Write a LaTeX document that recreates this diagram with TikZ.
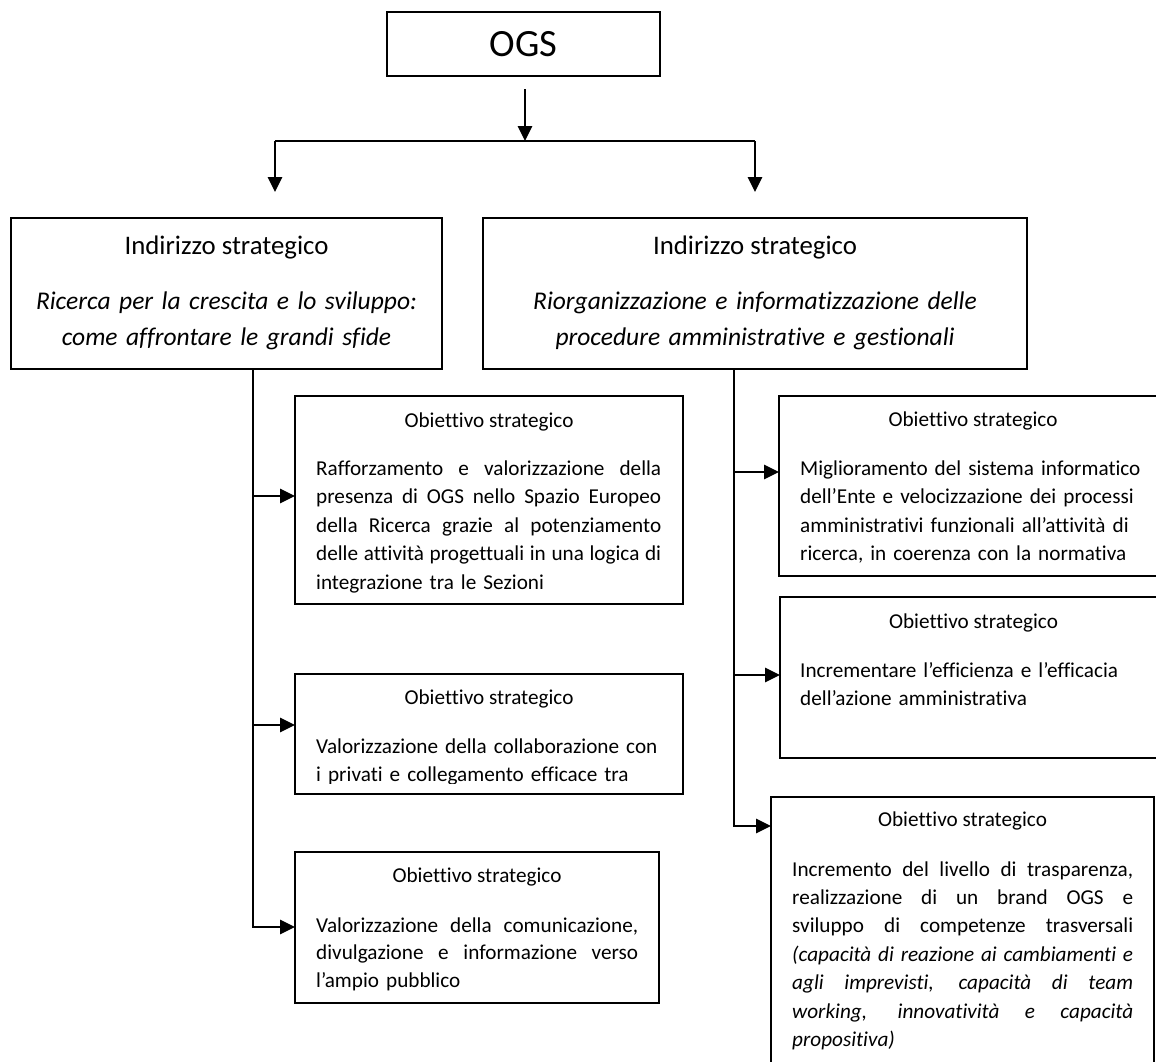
\documentclass[tikz,border=0pt]{standalone}
\usepackage{fontspec}
\setmainfont{Carlito}[Ligatures=CommonOff]
\usetikzlibrary{arrows.meta}
\newcommand\jline[3][]{\leavevmode\hbox to #2{#1\spaceskip=\fontdimen2\font plus 1fil\relax #3}}
\begin{document}
\begin{tikzpicture}[x=1pt,y=-1pt,
  box/.style={draw, line width=1.5pt, inner sep=0pt, outer sep=0pt, anchor=north west},
  arr/.style={line width=1.5pt, -{Triangle[length=15pt,width=14.5pt]}},
  ln/.style={line width=1.5pt},
  smallf/.style={font=\fontsize{21.2}{28.5}\selectfont},
  ttl/.style={anchor=base, inner sep=0pt, smallf},
  body/.style={anchor=base west, inner sep=0pt, align=left, text width=360pt, smallf},
  bigf/.style={font=\fontsize{26.8}{36}\selectfont},
  bigi/.style={font=\fontsize{25.5}{36}\selectfont\itshape},
  ]
\fill[white] (0,0) rectangle (1156,1061);
\useasboundingbox (0,0) rectangle (1156,1061);

% top
\node[box, minimum width=273pt, minimum height=64pt, font=\fontsize{38.6}{46}\selectfont] (ogs) at (387,12) {OGS};

% strategic directions
\node[box, minimum width=431pt, minimum height=151pt] (li) at (11,218) {};
\node[anchor=base, inner sep=0pt, bigf] (lit) at (226.5,254) {Indirizzo strategico};
\node[anchor=base, inner sep=0pt, text width=425pt, align=center, bigi] (lis) at (226.5,309) {Ricerca per la crescita e lo sviluppo:\\come affrontare le grandi sfide};

\node[box, minimum width=544pt, minimum height=151pt] (ri) at (483,218) {};
\node[anchor=base, inner sep=0pt, bigf] (rit) at (755,254) {Indirizzo strategico};
\node[anchor=base, inner sep=0pt, text width=540pt, align=center, bigi] (ris) at (755,309) {Riorganizzazione e informatizzazione delle\\procedure amministrative e gestionali};

% left objectives
\node[box, minimum width=388pt, minimum height=208pt] (lo1) at (295,396) {};
\node[ttl] (lo1t) at (489,427) {Obiettivo strategico};
\node[body] (lo1b) at (316,475) {\jline{345pt}{Rafforzamento e valorizzazione della}\\
\jline{345pt}{presenza di OGS nello Spazio Europeo}\\
\jline{345pt}{della Ricerca grazie al potenziamento}\\
\jline{345pt}{delle attività progettuali in una logica di}\\
integrazione tra le Sezioni};

\node[box, minimum width=388pt, minimum height=120pt] (lo2) at (295,674) {};
\node[ttl] (lo2t) at (489,704) {Obiettivo strategico};
\begin{scope}
\clip (295,674) rectangle (683,783);
\node[body] (lo2b) at (316,753) {Valorizzazione della collaborazione con\\
i privati e collegamento efficace tra};
\end{scope}

\node[box, minimum width=364pt, minimum height=151pt] (lo3) at (295,852) {};
\node[ttl] (lo3t) at (477,882) {Obiettivo strategico};
\node[body, font=\fontsize{21.2}{27.5}\selectfont] (lo3b) at (316,932) {\jline{322pt}{Valorizzazione della comunicazione,}\\
\jline{322pt}{divulgazione e informazione verso}\\
l’ampio pubblico};

% right objectives
\node[box, minimum width=388pt, minimum height=180pt] (ro1) at (779,396) {};
\node[ttl] (ro1t) at (973,426) {Obiettivo strategico};
\node[body] (ro1b) at (800,475) {Miglioramento del sistema informatico\\
dell’Ente e velocizzazione dei processi\\
amministrativi funzionali all’attività di\\
ricerca, in coerenza con la normativa};

\node[box, minimum width=387pt, minimum height=161pt] (ro2) at (780,597) {};
\node[ttl] (ro2t) at (973.5,628) {Obiettivo strategico};
\node[body, font=\fontsize{21.2}{28}\selectfont] (ro2b) at (800,677) {Incrementare l’efficienza e l’efficacia\\
dell’azione amministrativa};

\node[box, minimum width=383pt, minimum height=300pt] (ro3) at (771,797) {};
\node[ttl] (ro3t) at (962.5,826) {Obiettivo strategico};
\node[body, font=\fontsize{21.2}{28.4}\selectfont] (ro3b) at (792,876) {\jline{341pt}{Incremento del livello di trasparenza,}\\
\jline{341pt}{realizzazione di un brand OGS e}\\
\jline{341pt}{sviluppo di competenze trasversali}\\
\jline[\itshape]{341pt}{(capacità di reazione ai cambiamenti e}\\
\jline[\itshape]{341pt}{agli imprevisti, capacità di team}\\
\jline[\itshape]{341pt}{working, innovatività e capacità}\\
{\itshape propositiva)}};

% connectors: top
\coordinate (ogsout) at (525,89);
\coordinate (fork) at (525,141);
\coordinate (forkl) at (275,141);
\coordinate (forkr) at (755,141);
\coordinate (tipl) at (275,192);
\coordinate (tipr) at (755,192);
\draw[arr] (ogsout) -- (fork);
\draw[ln] (forkl) -- (forkr);
\draw[arr] (forkl) -- (tipl);
\draw[arr] (forkr) -- (tipr);

% left trunk
\coordinate (lt) at (253,369);
\coordinate (lb1) at (253,496);
\coordinate (lb2) at (253,725);
\coordinate (lb3) at (253,927);
\draw[arr] (lt) -- (lb3) -- (lb3 -| lo3.west);
\draw[arr] (lb1) -- (lb1 -| lo1.west);
\draw[arr] (lb2) -- (lb2 -| lo2.west);

% right trunk
\coordinate (rt) at (734,369);
\coordinate (rb1) at (734,472);
\coordinate (rb2) at (734,675);
\coordinate (rb3) at (734,826);
\draw[arr] (rt) -- (rb3) -- (rb3 -| ro3.west);
\draw[arr] (rb1) -- (rb1 -| ro1.west);
\draw[arr] (rb2) -- (rb2 -| ro2.west);
\end{tikzpicture}
\end{document}
